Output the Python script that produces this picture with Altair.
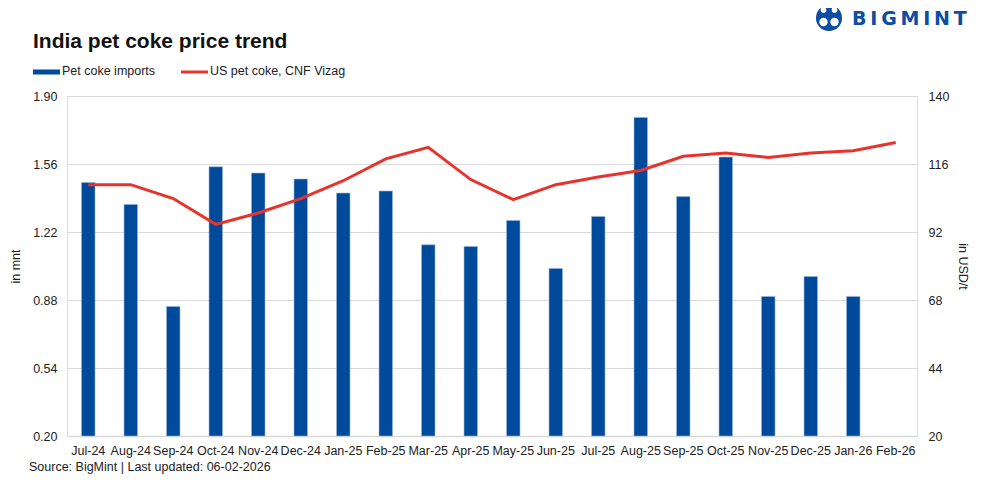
import altair as alt
import pandas as pd

months = ["Jul-24", "Aug-24", "Sep-24", "Oct-24", "Nov-24", "Dec-24", "Jan-25", "Feb-25",
          "Mar-25", "Apr-25", "May-25", "Jun-25", "Jul-25", "Aug-25", "Sep-25", "Oct-25",
          "Nov-25", "Dec-25", "Jan-26", "Feb-26"]
imports_mnt = [1.468, 1.358, 0.848, 1.546, 1.515, 1.485, 1.415, 1.425, 1.156, 1.148,
               1.278, 1.038, 1.298, 1.793, 1.397, 1.595, 0.898, 0.998, 0.898, None]
price_usd = [108.7, 108.7, 103.8, 94.7, 98.7, 103.8, 110.1, 117.8, 121.9, 110.5,
             103.4, 108.7, 111.4, 113.7, 118.7, 119.9, 118.3, 119.9, 120.7, 123.6]
left_ticks = [0.20, 0.54, 0.88, 1.22, 1.56, 1.90]
right_ticks = [20, 44, 68, 92, 116, 140]
series_names = ["Pet coke imports", "US pet coke, CNF Vizag"]

BLUE = "#004A9C"
RED = "#E8332D"
LOGO = "#0B4EA2"
FONT = "Liberation Sans"

df = pd.DataFrame({"month": months, "imports": imports_mnt, "price": price_usd})

x_enc = alt.X("month:N", sort=months, title=None,
              scale=alt.Scale(paddingInner=0, paddingOuter=0),
              axis=alt.Axis(labelAngle=0, ticks=False, labelPadding=8, labelFontSize=12.5,
                            labelColor="#222", labelFont=FONT, domainColor="#d9d9d9",
                            domainWidth=1.5))

bars = alt.Chart(df).transform_filter("datum.imports != null").mark_bar(
    size=13.5, color=BLUE, stroke="#9bb7dd", strokeWidth=0.6
).encode(
    x=x_enc,
    y=alt.Y("imports:Q", title="in mnt",
            scale=alt.Scale(domain=[0.2, 1.9], zero=False, nice=False),
            axis=alt.Axis(values=left_ticks, format=".2f", grid=True, gridColor="#d9d9d9",
                          gridWidth=1.2, domain=False, ticks=False, labelPadding=10,
                          labelFontSize=12.5, labelColor="#222", labelFont=FONT,
                          titleFont=FONT, titleFontSize=12.5, titleFontWeight="normal",
                          titleColor="#222", titlePadding=10)),
    y2=alt.Y2(datum=0.2),
)

line = alt.Chart(df).mark_line(color=RED, strokeWidth=3).encode(
    x=alt.X("month:N", sort=months),
    y=alt.Y("price:Q", title="in USD/t",
            scale=alt.Scale(domain=[20, 140], zero=False, nice=False),
            axis=alt.Axis(orient="right", values=right_ticks, grid=False, domain=False,
                          ticks=False, labelPadding=11, labelFontSize=12.5, labelColor="#222",
                          labelFont=FONT, titleFont=FONT, titleFontSize=12.5,
                          titleFontWeight="normal", titleColor="#222", titlePadding=7)),
)

main = alt.layer(bars, line).resolve_scale(y="independent")

one = pd.DataFrame({"k": [0]})

def txt(text, x, y, size=12.5, weight="normal", color="#222", align="left", font=FONT):
    return alt.Chart(one).mark_text(text=text, align=align, baseline="middle",
                                    fontSize=size, fontWeight=weight, color=color,
                                    font=font).encode(x=alt.value(x), y=alt.value(y))

def dot(x, y, size, color, shape="circle"):
    return alt.Chart(one).mark_point(filled=True, color=color, opacity=1, size=size,
                                     shape=shape, strokeWidth=0).encode(
        x=alt.value(x), y=alt.value(y))

title = txt("India pet coke price trend", -34, -54, size=21, weight="bold", color="#111")
leg_bar = alt.Chart(one).mark_rule(color=BLUE, strokeWidth=5).encode(
    x=alt.value(-34), x2=alt.value(-7), y=alt.value(-24))
leg_bar_t = txt(series_names[0], -5, -25)
leg_line = alt.Chart(one).mark_rule(color=RED, strokeWidth=3).encode(
    x=alt.value(114), x2=alt.value(141), y=alt.value(-24))
leg_line_t = txt(series_names[1], 143, -25)
source = txt("Source: BigMint | Last updated: 06-02-2026", -38, 371, size=12.5)

logo_parts = [
    dot(762, -78, 680, LOGO),
    dot(756.5, -74, 70, "white"),
    dot(767.5, -74, 70, "white"),
    dot(756.5, -86, 32, "white"),
    dot(767.5, -86, 32, "white"),
    dot(762, -68, 30, LOGO, "triangle-down"),
]
logo_text = txt("B\u2009I\u2009G\u2009M\u2009I\u2009N\u2009T", 785, -77, size=19,
                weight="bold", color=LOGO, font="DejaVu Sans")

chart = alt.layer(main, title, leg_bar, leg_bar_t, leg_line, leg_line_t, source,
                  *logo_parts, logo_text).properties(
    width=850, height=340,
    autosize=alt.AutoSizeParams(type="none"),
    padding={"left": 59, "top": 88, "right": 58, "bottom": 40},
).configure_view(stroke=None).configure(background="white")

chart.save("out.html", embed_options={"renderer": "svg", "actions": False})
